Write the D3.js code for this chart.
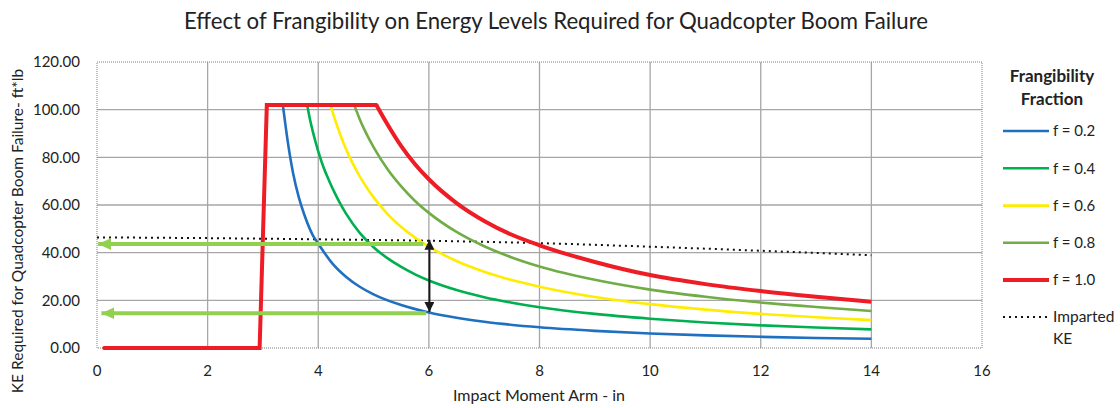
<!DOCTYPE html>
<html>
<head>
<meta charset="utf-8">
<script src="https://cdn.jsdelivr.net/npm/d3@7"></script>
<style>
    body { margin: 0; background: #fff; }
    svg { display: block; }
</style>
</head>
<body>
<svg id="chart" width="1120" height="408"></svg>
<script>
// tick values
const xTicks = [0, 2, 4, 6, 8, 10, 12, 14, 16]
const yTicks = [0, 20, 40, 60, 80, 100, 120]

// series: [impact moment arm (in), KE (ft*lb)]
const f02 = [[3.36, 102], [3.45, 86.4], [3.55, 72.8], [3.65, 63.1], [3.75, 55.8], [3.9, 47.4], [4.0, 43.8], [4.25, 35.6],
    [4.5, 29.9], [4.75, 25.7], [5.0, 22.5], [5.5, 18.0], [6, 14.9], [6.5, 12.7], [7, 11.0], [8, 8.7], [9, 7.2],
    [10, 6.1], [11, 5.3], [12, 4.7], [13, 4.2], [14, 3.85]]
const f04 = [[3.8, 102], [3.85, 96], [3.9, 91], [4.0, 82.5], [4.1, 75.5], [4.2, 70], [4.3, 65], [4.4, 60.5], [4.5, 56.5],
    [4.75, 48.3], [5.0, 42.3], [5.25, 37.7], [5.5, 34], [5.75, 30.9], [6, 28.3], [6.5, 24.3], [7, 21.3], [7.5, 19],
    [8, 17.1], [9, 14.3], [10, 12.3], [11, 10.7], [12, 9.5], [13, 8.6], [14, 7.8]]
const f06 = [[4.22, 102], [4.3, 96], [4.4, 89.4], [4.5, 83.6], [4.6, 78.5], [4.75, 72], [4.9, 66.5], [5.0, 63.2],
    [5.25, 56.3], [5.5, 50.8], [5.75, 46.3], [6, 42.5], [6.5, 36.5], [7, 32], [7.5, 28.5], [8, 25.7], [9, 21.4],
    [10, 18.4], [11, 16.1], [12, 14.3], [13, 12.9], [14, 11.7]]
const f08 = [[4.65, 102], [4.75, 96], [4.9, 88.6], [5.0, 84.3], [5.25, 75.1], [5.5, 67.8], [5.75, 61.7], [6, 56.7],
    [6.5, 48.7], [7, 42.7], [7.5, 38], [8, 34.2], [9, 28.6], [10, 24.5], [11, 21.5], [12, 19.1], [13, 17.2], [14, 15.5]]
const f10 = [[0.13, 0], [2.94, 0], [3.07, 102], [5.05, 102], [5.25, 93.9], [5.5, 84.7], [5.75, 77.1], [6, 70.8],
    [6.5, 60.8], [7, 53.3], [7.5, 47.5], [8, 43.1], [9, 36.1], [10, 30.6], [11, 26.8], [12, 23.9], [13, 21.5], [14, 19.4]]
const impartedKE = [[0, 46.4], [2, 46.1], [4, 45.6], [6, 45.0], [8, 44.0], [10, 42.5], [12, 40.8], [14, 38.9]]

const seriesNames = ['f = 0.2', 'f = 0.4', 'f = 0.6', 'f = 0.8', 'f = 1.0']
const seriesData = [f02, f04, f06, f08, f10]
const seriesColors = ['#1f70c1', '#00b050', '#ffed00', '#70ad47', '#ee1c25']

// annotation arrows (data units)
const greenArrows = [[[5.9, 43.6], [0.02, 43.6]], [[5.95, 14.6], [0.08, 14.6]]]
const gapArrow = [[6.01, 45.4], [6.01, 15.1]]

const svg = d3.select('#chart')
const font = 'Lato, "Open Sans", sans-serif'
const plot = { left: 97, right: 982, top: 62, bottom: 348 }

const x = d3.scaleLinear().domain([0, 16]).range([plot.left, plot.right])
const y = d3.scaleLinear().domain([0, 120]).range([plot.bottom, plot.top])

// gridlines
svg.append('g')
    .selectAll('line')
    .data(xTicks.slice(1, -1))
    .enter().append('line')
    .attr('x1', d => x(d)).attr('x2', d => x(d))
    .attr('y1', plot.top).attr('y2', plot.bottom)
    .attr('stroke', '#a6a6a6').attr('stroke-width', 1.3)
svg.append('g')
    .selectAll('line')
    .data(yTicks.slice(1, -1))
    .enter().append('line')
    .attr('x1', plot.left).attr('x2', plot.right)
    .attr('y1', d => y(d)).attr('y2', d => y(d))
    .attr('stroke', '#a6a6a6').attr('stroke-width', 1.3)

// plot border (dotted)
svg.append('rect')
    .attr('x', plot.left).attr('y', plot.top)
    .attr('width', plot.right - plot.left).attr('height', plot.bottom - plot.top)
    .attr('fill', 'none').attr('stroke', '#7f7f7f').attr('stroke-width', 1)
    .attr('stroke-dasharray', '1,1')

// tick labels
svg.append('g')
    .selectAll('text')
    .data(yTicks)
    .enter().append('text')
    .attr('x', 80).attr('y', d => y(d))
    .attr('dy', '0.35em')
    .attr('text-anchor', 'end')
    .attr('font-family', font).attr('font-size', 15).attr('fill', '#222')
    .text(d => d.toFixed(2))
svg.append('g')
    .selectAll('text')
    .data(xTicks)
    .enter().append('text')
    .attr('x', d => x(d)).attr('y', 376)
    .attr('text-anchor', 'middle')
    .attr('font-family', font).attr('font-size', 15).attr('fill', '#222')
    .text(d => d)

// titles
svg.append('text')
    .attr('x', 556).attr('y', 29)
    .attr('text-anchor', 'middle')
    .attr('font-family', font).attr('font-size', 22.2).attr('fill', '#222')
    .text('Effect of Frangibility on Energy Levels Required for Quadcopter Boom Failure')
svg.append('text')
    .attr('x', 539).attr('y', 401)
    .attr('text-anchor', 'middle')
    .attr('font-family', font).attr('font-size', 16).attr('fill', '#222')
    .text('Impact Moment Arm - in')
svg.append('text')
    .attr('transform', 'translate(23,231) rotate(-90)')
    .attr('text-anchor', 'middle')
    .attr('font-family', font).attr('font-size', 15.5).attr('fill', '#222')
    .text('KE Required for Quadcopter Boom Failure- ft*lb')

// curves
const smooth = d3.line()
    .x(d => x(d[0]))
    .y(d => y(d[1]))
    .curve(d3.curveMonotoneX)
const straight = d3.line()
    .x(d => x(d[0]))
    .y(d => y(d[1]))

// imparted KE (dotted)
svg.append('path')
    .datum(impartedKE)
    .attr('d', smooth)
    .attr('fill', 'none').attr('stroke', '#111').attr('stroke-width', 2)
    .attr('stroke-dasharray', '2,4')

seriesData.forEach((data, i) => {
    const width = i === 4 ? 4 : 2.6
    if (i === 4) {
        // step part of f = 1.0 is straight, the fall-off is smooth
        const plateauEnd = d3.max(data.filter(d => d[1] === 102), d => d[0])
        svg.append('path')
            .datum(data.filter(d => d[0] <= plateauEnd))
            .attr('d', straight)
            .attr('fill', 'none').attr('stroke', seriesColors[i]).attr('stroke-width', width)
            .attr('stroke-linejoin', 'miter').attr('stroke-linecap', 'round')
        data = data.filter(d => d[0] >= plateauEnd)
    }
    svg.append('path')
        .datum(data)
        .attr('d', smooth)
        .attr('fill', 'none')
        .attr('stroke', seriesColors[i])
        .attr('stroke-width', width)
        .attr('stroke-linejoin', 'round')
})

// arrow markers
const defs = svg.append('defs')
defs.append('marker')
    .attr('id', 'greenHead')
    .attr('markerUnits', 'userSpaceOnUse')
    .attr('viewBox', '0 0 13 12')
    .attr('refX', 13).attr('refY', 6)
    .attr('markerWidth', 13).attr('markerHeight', 12)
    .attr('orient', 'auto')
    .append('path').attr('d', 'M0,0L13,6L0,12Z').attr('fill', '#92d050')
defs.append('marker')
    .attr('id', 'blackHead')
    .attr('markerUnits', 'userSpaceOnUse')
    .attr('viewBox', '0 0 10 10')
    .attr('refX', 10).attr('refY', 5)
    .attr('markerWidth', 10).attr('markerHeight', 10)
    .attr('orient', 'auto-start-reverse')
    .append('path').attr('d', 'M0,0L10,5L0,10Z').attr('fill', '#1a1a1a')

svg.append('g')
    .selectAll('line')
    .data(greenArrows)
    .enter().append('line')
    .attr('x1', d => x(d[0][0])).attr('y1', d => y(d[0][1]))
    .attr('x2', d => x(d[1][0])).attr('y2', d => y(d[1][1]))
    .attr('stroke', '#92d050').attr('stroke-width', 4)
    .attr('marker-end', 'url(#greenHead)')

svg.append('line')
    .attr('x1', x(gapArrow[0][0])).attr('y1', y(gapArrow[0][1]))
    .attr('x2', x(gapArrow[1][0])).attr('y2', y(gapArrow[1][1]))
    .attr('stroke', '#1a1a1a').attr('stroke-width', 2)
    .attr('marker-start', 'url(#blackHead)')
    .attr('marker-end', 'url(#blackHead)')

// legend
const legend = svg.append('g')
legend.selectAll('text.title')
    .data(['Frangibility', 'Fraction'])
    .enter().append('text')
    .attr('x', 1052).attr('y', (d, i) => 82 + i * 22.5)
    .attr('text-anchor', 'middle')
    .attr('font-family', font).attr('font-size', 17).attr('font-weight', 'bold').attr('fill', '#222')
    .text(d => d)

const legendY = [131, 168.3, 205.6, 242.8, 280]
seriesNames.forEach((name, i) => {
    legend.append('line')
        .attr('x1', 1003).attr('x2', 1049)
        .attr('y1', legendY[i]).attr('y2', legendY[i])
        .attr('stroke', seriesColors[i])
        .attr('stroke-width', i === 4 ? 4 : 2.6)
    legend.append('text')
        .attr('x', 1053).attr('y', legendY[i])
        .attr('dy', '0.35em')
        .attr('font-family', font).attr('font-size', 15).attr('fill', '#222')
        .text(name)
})
legend.append('line')
    .attr('x1', 1003).attr('x2', 1049)
    .attr('y1', 317).attr('y2', 317)
    .attr('stroke', '#111').attr('stroke-width', 2)
    .attr('stroke-dasharray', '2,4')
legend.selectAll('text.ke')
    .data(['Imparted', 'KE'])
    .enter().append('text')
    .attr('x', 1053).attr('y', (d, i) => 317 + i * 21.5)
    .attr('dy', '0.35em')
    .attr('font-family', font).attr('font-size', 15.5).attr('fill', '#222')
    .text(d => d)
</script>
</body>
</html>
